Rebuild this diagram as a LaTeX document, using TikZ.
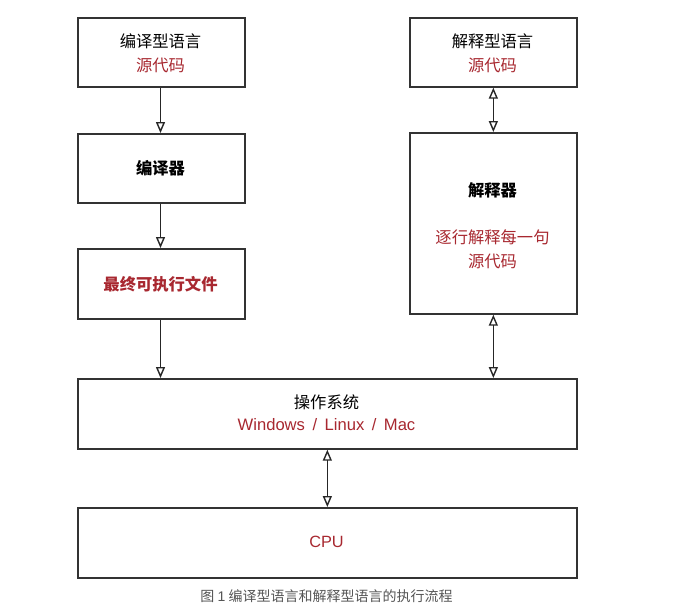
\documentclass[tikz,border=0pt]{standalone}
\usepackage{fontspec}
\setmainfont{Noto Sans CJK SC}
\newfontfamily\lat{Liberation Sans}
\usetikzlibrary{arrows.meta}
\definecolor{dred}{RGB}{168,40,48}
\definecolor{edge}{RGB}{51,51,51}
\definecolor{capgray}{RGB}{85,85,85}
\begin{document}
\begin{tikzpicture}[x=1pt,y=-1pt,
  box/.style={draw=edge,line width=1.7pt,inner sep=0pt,anchor=north west},
  txt/.style={font=\fontsize{16.3}{18}\selectfont,inner sep=0pt},
  rtxt/.style={txt,text=dred},
  btxt/.style={txt,font=\fontsize{16.3}{18}\selectfont\bfseries},
  tip/.style={-{Triangle[open,width=9pt,length=11pt]},line width=1.4pt,draw=black!85},
  dtip/.style={{Triangle[open,width=9pt,length=11pt]}-{Triangle[open,width=9pt,length=11pt]},line width=1.4pt,draw=black!85}]
\useasboundingbox[fill=white] (0,0) rectangle (688,614);
% left column
\node[box,minimum width=167pt,minimum height=69pt] (src1) at (77,17) {};
\node[txt] at (160.5,41) {编译型语言};
\node[rtxt] at (160.5,65) {源代码};
\node[box,minimum width=167pt,minimum height=69pt] (comp) at (77,133) {};
\node[btxt] at (160.5,168) {编译器};
\node[box,minimum width=167pt,minimum height=70pt] (exe) at (77,248) {};
\node[btxt,text=dred] at (160.5,284) {最终可执行文件};
% right column
\node[box,minimum width=167pt,minimum height=69pt] (src2) at (409,17) {};
\node[txt] at (492.5,41) {解释型语言};
\node[rtxt] at (492.5,65) {源代码};
\node[box,minimum width=167pt,minimum height=181pt] (interp) at (409,132) {};
\node[btxt] at (492.5,190) {解释器};
\node[rtxt] at (492.5,237) {逐行解释每一句};
\node[rtxt] at (492.5,261) {源代码};
% OS and CPU
\node[box,minimum width=499pt,minimum height=70pt] (os) at (77,378) {};
\node[txt] at (326.5,402) {操作系统};
\node[rtxt,font=\fontsize{16.6}{18}\selectfont\lat] at (326.5,425) {Windows\hspace{7.5pt}/\hspace{7.5pt}Linux\hspace{7.5pt}/\hspace{7.5pt}Mac};
\node[box,minimum width=499pt,minimum height=70pt] (cpu) at (77,507) {};
\node[rtxt,font=\fontsize{16.3}{18}\selectfont\lat] at (326.5,542) {CPU};
% caption
\node[inner sep=0pt,text=capgray,font=\fontsize{14}{16}\selectfont] (cap) at (326.5,596) {图 {\lat 1} 编译型语言和解释型语言的执行流程};
% connectors
\draw[tip] (src1.south -| 160.5,0) -- (comp.north -| 160.5,0);
\draw[tip] (comp.south -| 160.5,0) -- (exe.north -| 160.5,0);
\draw[tip] (exe.south -| 160.5,0) -- (os.north -| 160.5,0);
\draw[dtip] (src2.south) -- (interp.north);
\draw[dtip] (interp.south) -- (os.north -| interp.south);
\draw[dtip] (os.south) -- (cpu.north);
\end{tikzpicture}
\end{document}
